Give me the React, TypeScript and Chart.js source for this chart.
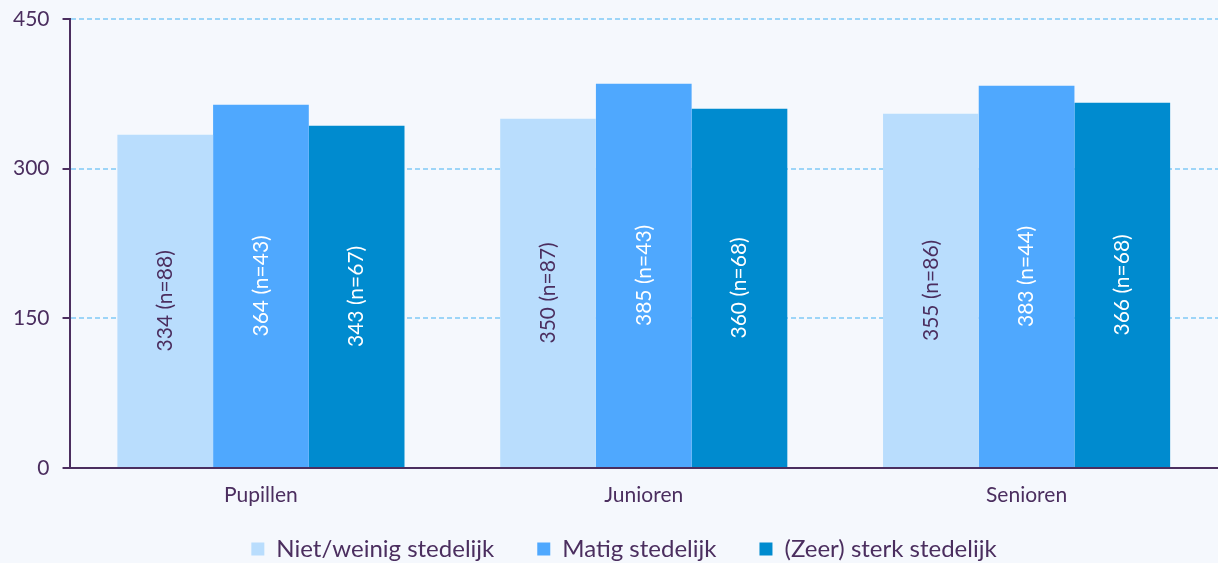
import React, { useEffect, useRef } from "react";
import { Chart, registerables } from "chart.js";

Chart.register(...registerables);

const categories = ["Pupillen", "Junioren", "Senioren"];
const seriesNames = ["Niet/weinig stedelijk", "Matig stedelijk", "(Zeer) sterk stedelijk"];
const nietWeinig = [334, 350, 355];
const matig = [364, 385, 383];
const sterk = [343, 360, 366];
const nNietWeinig = [88, 87, 86];
const nMatig = [43, 43, 44];
const nSterk = [67, 68, 68];
const yTicks = [0, 150, 300, 450];

const colors = ["#b9ddfd", "#4fa8fe", "#008bcf"];
const labelColors = ["#4b2e5f", "#ffffff", "#ffffff"];
const textColor = "#4b2e5f";

const barLabelPlugin = {
  id: "barLabels",
  afterDatasetsDraw(chart: any) {
    const ctx = chart.ctx;
    const ns = [nNietWeinig, nMatig, nSterk];
    chart.data.datasets.forEach((ds: any, di: number) => {
      const meta = chart.getDatasetMeta(di);
      meta.data.forEach((bar: any, i: number) => {
        const v = ds.data[i];
        const text = `${v} (n=${ns[di][i]})`;
        const cy = (bar.y + bar.base) / 2;
        ctx.save();
        ctx.translate(bar.x, cy);
        ctx.rotate(-Math.PI / 2);
        ctx.font = "21px Lato";
        ctx.fillStyle = labelColors[di];
        ctx.textAlign = "center";
        ctx.textBaseline = "middle";
        ctx.fillText(text, 0, 0);
        ctx.restore();
      });
    });
  },
};

// move the legend up a little (closer to the axis labels) and a bit to the right
const legendNudgePlugin = {
  id: "legendNudge",
  afterLayout(chart: any) {
    const lg = chart.legend;
    if (!lg) return;
    lg.top = chart.scales.x.bottom - 16;
    lg.bottom = lg.top + lg.height;
    lg.left += 15;
    lg.right += 15;
  },
};

export default function App() {
  const ref = useRef<HTMLCanvasElement>(null);
  useEffect(() => {
    const chart = new Chart(ref.current!, {
      type: "bar",
      data: {
        labels: categories,
        datasets: [nietWeinig, matig, sterk].map((d, i) => ({
          label: seriesNames[i],
          data: d,
          backgroundColor: colors[i],
          borderWidth: 0,
          categoryPercentage: 0.75,
          barPercentage: 1,
        })),
      },
      options: {
        animation: false,
        responsive: false,
        maintainAspectRatio: false,
        layout: { padding: { left: 0, right: 0, top: 0, bottom: -24 } },
        plugins: {
          legend: {
            position: "bottom",
            labels: {
              color: textColor,
              font: { family: "Lato", size: 24 },
              boxWidth: 13,
              boxHeight: 13,
              padding: 43,
            },
          },
          tooltip: { enabled: false },
        },
        scales: {
          x: {
            grid: { display: false, drawTicks: false },
            border: { display: true, color: textColor, width: 2 },
            ticks: {
              color: textColor,
              font: { family: "Lato", size: 21 },
              padding: 15,
            },
            afterFit: (scale: any) => {
              scale.height = 42;
            },
          },
          y: {
            min: 0,
            max: 450,
            afterBuildTicks: (scale: any) => {
              scale.ticks = yTicks.map((v) => ({ value: v }));
            },
            afterFit: (scale: any) => {
              scale.paddingTop = 19;
            },
            grid: {
              color: "#9dd5f8",
              lineWidth: 2,
              tickColor: textColor,
              tickLength: 7,
              tickWidth: 2,
            },
            border: { display: true, color: textColor, width: 2, dash: [5, 3] },
            ticks: {
              color: textColor,
              font: { family: "Lato", size: 21 },
              padding: 13,
            },
          },
        },
      },
      plugins: [barLabelPlugin, legendNudgePlugin],
    });
    return () => chart.destroy();
  }, []);
  return (
    <div
      style={{
        position: "fixed",
        left: 0,
        top: 0,
        width: 1218,
        height: 563,
        background: "#f5f8fd",
      }}
    >
      <canvas ref={ref} width={1218} height={563} style={{ display: "block" }} />
    </div>
  );
}
